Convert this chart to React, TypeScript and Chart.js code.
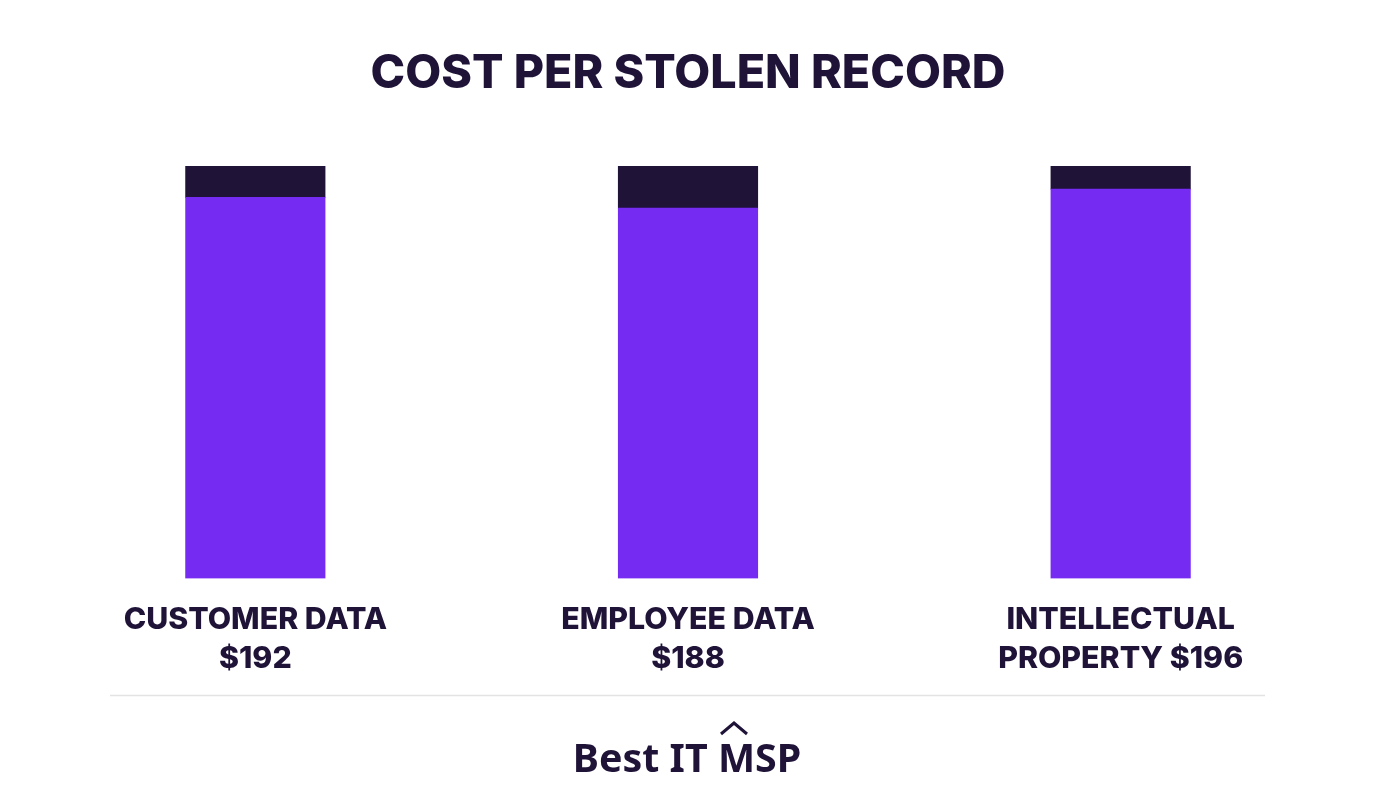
import React, { useEffect, useRef } from "react";
import { Chart, registerables } from "chart.js";

Chart.register(...registerables);

const categories: string[][] = [
  ["CUSTOMER DATA", "$192"],
  ["EMPLOYEE DATA", "$188"],
  ["INTELLECTUAL", "PROPERTY $196"],
];
const filledShare = [92.4, 89.8, 94.4];
const remainderShare = [7.6, 10.2, 5.6];
const titleText = "COST PER STOLEN RECORD";
const footerText = "Best IT MSP";

const DARK = "#1f1338";
const PURPLE = "#762bf2";

export default function App() {
  const ref = useRef<HTMLCanvasElement>(null);
  useEffect(() => {
    document.body.style.margin = "0";
    document.body.style.background = "#ffffff";
    const decor = {
      id: "decor",
      afterDraw(chart: any) {
        const c = chart.ctx;
        c.save();
        c.fillStyle = DARK;
        c.textAlign = "center";
        c.textBaseline = "alphabetic";
        c.font = "800 46.6px Inter";
        c.fillText(titleText, 688, 88);
        c.font = "700 39.4px 'Noto Sans'";
        c.fillText(footerText, 687, 772);
        c.strokeStyle = "#e3e3e3";
        c.lineWidth = 1.5;
        c.beginPath();
        c.moveTo(110, 695.5);
        c.lineTo(1265, 695.5);
        c.stroke();
        c.strokeStyle = DARK;
        c.lineWidth = 3;
        c.beginPath();
        c.moveTo(721, 734);
        c.lineTo(734, 723);
        c.lineTo(747, 734);
        c.stroke();
        c.restore();
      },
    };
    const chart = new Chart(ref.current!, {
      type: "bar",
      data: {
        labels: categories,
        datasets: [
          { data: filledShare, backgroundColor: PURPLE, barThickness: 139.5, stack: "s" },
          { data: remainderShare, backgroundColor: DARK, barThickness: 139.5, stack: "s" },
        ],
      },
      options: {
        animation: false,
        responsive: false,
        layout: { padding: { left: 39, right: 39, top: 166, bottom: 0 } },
        plugins: { legend: { display: false }, title: { display: false }, tooltip: { enabled: false } },
        scales: {
          x: {
            stacked: true,
            grid: { display: false },
            border: { display: false },
            afterFit(axis: any) { axis.height = 218.5; },
            ticks: {
              color: DARK,
              font: { family: "Inter", size: 30.3, weight: "800", lineHeight: 1.29 },
              padding: 14,
              maxRotation: 0,
              autoSkip: false,
            },
          },
          y: { stacked: true, display: false, min: 0, max: 100 },
        },
      },
      plugins: [decor],
    } as any);
    return () => chart.destroy();
  }, []);
  return <canvas ref={ref} width={1376} height={797} style={{ display: "block" }} />;
}
